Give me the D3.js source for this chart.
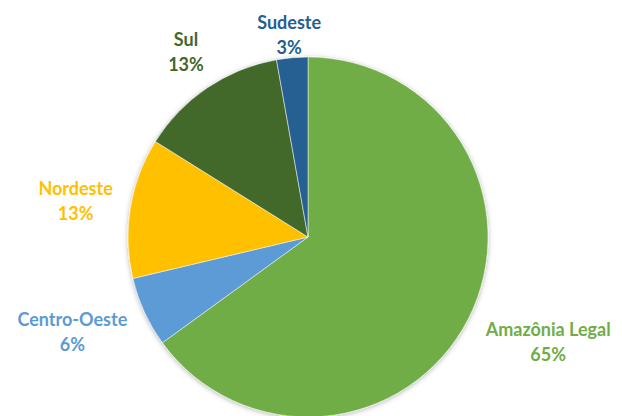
<!DOCTYPE html>
<html>
<head>
<meta charset="utf-8">
<script src="https://cdn.jsdelivr.net/npm/d3@7"></script>
<style>
  body { margin: 0; background: #fff; }
  svg text { font-family: Lato, "Open Sans", sans-serif; font-weight: bold; font-size: 18px; }
</style>
</head>
<body>
<svg id="chart" width="622" height="416"></svg>
<script>
// data (shares in %)
var regions = ["Amazônia Legal", "Centro-Oeste", "Nordeste", "Sul", "Sudeste"];
var shares = [65.0, 6.3, 12.6, 13.3, 2.8];
var colors = ["#70AD47", "#5B9BD5", "#FFC000", "#43682B", "#255E91"];

// layout
var cx = 308, cy = 237, radius = 180;
var labelGap = [26, 24, 18, 20, 0];
var lineHeight = 25;

var svg = d3.select("#chart");

var defs = svg.append("defs");
var shadow = defs.append("filter").attr("id", "shadow")
  .attr("x", "-10%").attr("y", "-10%").attr("width", "120%").attr("height", "120%");
shadow.append("feDropShadow")
  .attr("dx", 0).attr("dy", 1).attr("stdDeviation", 2.5)
  .attr("flood-color", "#000").attr("flood-opacity", 0.3);

var pie = d3.pie().sort(null).value(function(d) { return d; });
var arcs = pie(shares);

var arc = d3.arc().innerRadius(0).outerRadius(radius);

var g = svg.append("g").attr("transform", "translate(" + cx + "," + cy + ")");

g.append("g").attr("filter", "url(#shadow)")
  .selectAll("path")
  .data(arcs)
  .enter().append("path")
  .attr("d", arc)
  .attr("fill", function(d, i) { return colors[i]; })
  .attr("stroke", "#fff")
  .attr("stroke-width", 0.5);

var total = d3.sum(shares);

var labels = g.selectAll("text.lbl")
  .data(arcs)
  .enter().append("text")
  .attr("class", "lbl")
  .attr("text-anchor", "middle")
  .attr("fill", function(d, i) { return colors[i]; });

labels.append("tspan")
  .attr("x", 0)
  .text(function(d, i) { return regions[i]; });
labels.append("tspan")
  .attr("x", 0)
  .attr("dy", lineHeight)
  .text(function(d) { return Math.round(d.value / total * 100) + "%"; });

// place each label outside its slice, box pushed away from the pie
labels.each(function(d, i) {
  var box = this.getBBox();
  var a = (d.startAngle + d.endAngle) / 2;
  var s = Math.sin(a), c = Math.cos(a);
  var r = radius + labelGap[i];
  var bx = r * s + (box.width / 2) * s;
  var by = -r * c - (box.height / 2) * c;
  var tx = bx - (box.x + box.width / 2);
  var ty = by - (box.y + box.height / 2);
  d3.select(this).attr("transform", "translate(" + tx + "," + ty + ")");
});
</script>
</body>
</html>
